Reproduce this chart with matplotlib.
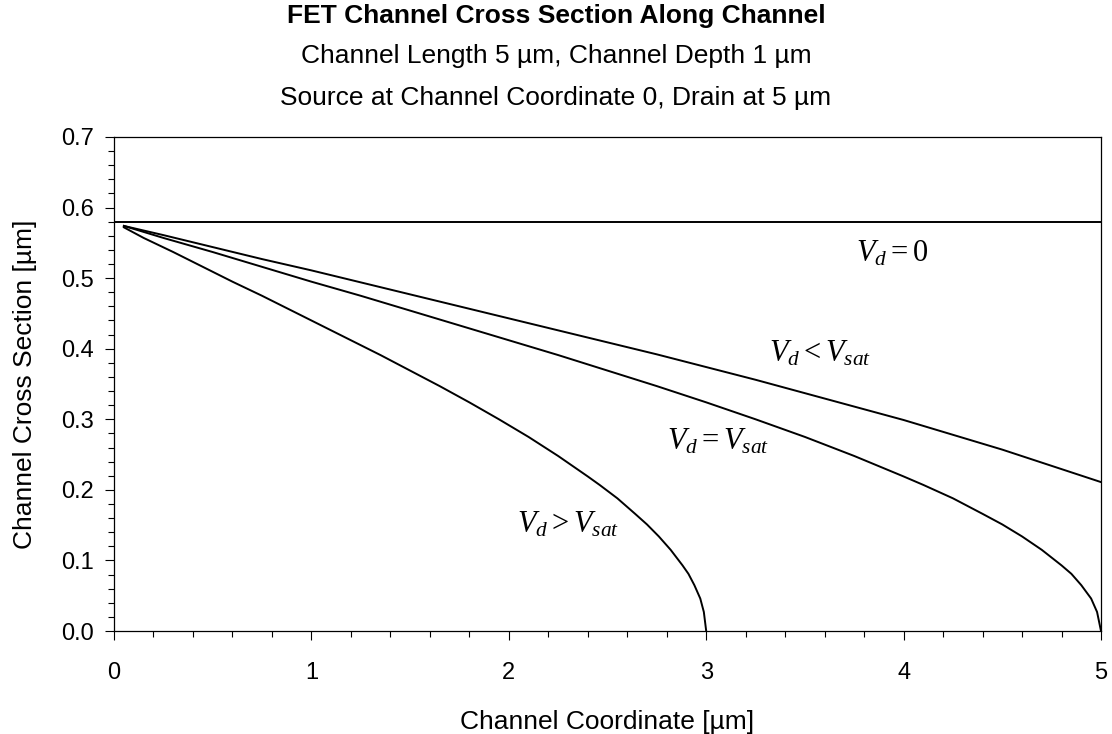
import matplotlib
matplotlib.use("Agg")
import matplotlib.pyplot as plt
from matplotlib.ticker import MultipleLocator

plt.rcParams['font.family'] = ['Liberation Sans', 'DejaVu Sans']
plt.rcParams['mathtext.fontset'] = 'custom'
plt.rcParams['mathtext.rm'] = 'Liberation Serif'
plt.rcParams['mathtext.it'] = 'Liberation Serif:italic'

# channel cross section [um] vs. channel coordinate [um]
flat_x = [0.0, 5.0]
flat_h = [0.579, 0.579]

below_x = [0.05, 0.25, 0.5, 0.75, 1.0, 1.25, 1.5, 1.75, 2.0, 2.25, 2.5, 2.75,
           3.0, 3.25, 3.5, 3.75, 4.0, 4.25, 4.5, 4.75, 5.0]
below_h = [0.574, 0.561, 0.544, 0.527, 0.511, 0.494, 0.477, 0.460, 0.443, 0.426,
           0.409, 0.392, 0.374, 0.356, 0.337, 0.318, 0.299, 0.278, 0.257, 0.234, 0.211]

sat_x = [0.05, 0.25, 0.5, 0.75, 1.0, 1.25, 1.5, 1.75, 2.0, 2.25, 2.5, 2.75, 3.0,
         3.25, 3.5, 3.75, 4.0, 4.1, 4.25, 4.4, 4.5, 4.6, 4.7, 4.8, 4.85, 4.9,
         4.95, 4.98, 5.0]
sat_h = [0.574, 0.557, 0.537, 0.516, 0.495, 0.475, 0.454, 0.433, 0.412, 0.391,
         0.369, 0.347, 0.324, 0.300, 0.275, 0.248, 0.219, 0.207, 0.188, 0.166,
         0.151, 0.134, 0.115, 0.093, 0.081, 0.065, 0.046, 0.027, 0.0]

above_x = [0.05, 0.15, 0.3, 0.45, 0.6, 0.75, 0.9, 1.05, 1.2, 1.35, 1.5, 1.65, 1.8,
           1.95, 2.1, 2.25, 2.4, 2.46, 2.55, 2.64, 2.7, 2.76, 2.82, 2.88, 2.91,
           2.94, 2.97, 2.988, 3.0]
above_h = [0.572, 0.557, 0.537, 0.516, 0.495, 0.475, 0.454, 0.433, 0.412, 0.391,
           0.369, 0.347, 0.324, 0.300, 0.275, 0.248, 0.219, 0.207, 0.188, 0.166,
           0.151, 0.134, 0.115, 0.093, 0.081, 0.065, 0.046, 0.027, 0.0]

fig = plt.figure(figsize=(11.12, 7.34), dpi=100)
ax = fig.add_axes([114 / 1112, 1 - 631 / 734, 987 / 1112, 494 / 734])

for xs, hs in [(flat_x, flat_h), (below_x, below_h), (sat_x, sat_h), (above_x, above_h)]:
    ax.plot(xs, hs, color='black', lw=1.4)

ax.set_xlim(0, 5)
ax.set_ylim(0, 0.7)
ax.xaxis.set_major_locator(MultipleLocator(1))
ax.xaxis.set_minor_locator(MultipleLocator(0.2))
ax.yaxis.set_major_locator(MultipleLocator(0.1))
ax.yaxis.set_minor_locator(MultipleLocator(0.02))
ax.yaxis.set_major_formatter(lambda v, pos: f'{v:.1f}')
ax.tick_params(which='major', direction='out', length=6.3, width=0.8, labelsize=17)
ax.tick_params(which='minor', direction='out', length=4, width=0.8)
ax.tick_params(axis='x', which='major', pad=16)
ax.tick_params(axis='y', which='major', pad=8)
for s in ax.spines.values():
    s.set_linewidth(0.9)

# curve labels
lab = dict(fontsize=22, ha='left', va='baseline')
ax.text(3.76, 0.524, r'$V_d = 0$', **lab)
ax.text(3.32, 0.382, r'$V_d < V_{sat}$', **lab)
ax.text(2.80, 0.257, r'$V_d = V_{sat}$', **lab)
ax.text(2.04, 0.139, r'$V_d > V_{sat}$', **lab)

fig.text(607 / 1112, 1 - 722 / 734, 'Channel Coordinate [µm]', fontsize=19,
         ha='center', va='center')
fig.text(25 / 1112, 1 - 384 / 734, 'Channel Cross Section [µm]', fontsize=19,
         ha='center', va='center', rotation=90)

fig.text(0.5, 1 - 16 / 734, 'FET Channel Cross Section Along Channel',
         fontsize=19, fontweight='bold', ha='center', va='center')
fig.text(0.5, 1 - 56 / 734, 'Channel Length 5 µm, Channel Depth 1 µm',
         fontsize=19, ha='center', va='center')
fig.text(0.5, 1 - 98 / 734, 'Source at Channel Coordinate 0, Drain at 5 µm',
         fontsize=19, ha='center', va='center')

fig.savefig('out.png', dpi=100)
